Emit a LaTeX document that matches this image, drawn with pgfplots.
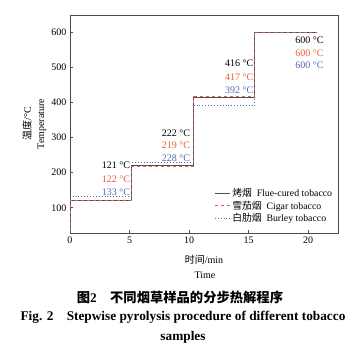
\documentclass[border=0pt]{standalone}
\usepackage{pgfplots}
\pgfplotsset{compat=1.18}
\usepackage{fontspec}
\setmainfont{Liberation Serif}
\newfontfamily\cjk{Noto Sans CJK SC}
\definecolor{cblack}{HTML}{505050}
\definecolor{cred}{HTML}{F05A3C}
\definecolor{cblue}{HTML}{5068B8}
\begin{document}
\begin{tikzpicture}
\useasboundingbox (0pt,0pt) rectangle (359pt,353pt);
\begin{axis}[
  at={(70pt,120pt)}, anchor=south west,
  scale only axis, width=268pt, height=218pt,
  xmin=0, xmax=22.5, ymin=28, ymax=650,
  xtick={0,5,10,15,20}, ytick={100,200,300,400,500,600},
  axis line style={draw=black!70, line width=0.9pt},
  tick style={draw=black!70, line width=0.6pt},
  tick align=inside, major tick length=3pt,
  xtick pos=bottom, ytick pos=left,
  tick label style={font=\fontsize{10}{11}\selectfont},
  /pgf/number format/assume math mode=true,
  legend style={draw=none, fill=none, at={(0.99,0.03)}, anchor=south east,
    font=\fontsize{9.8}{10.5}\selectfont, row sep=-1.2pt, inner sep=1pt},
  legend cell align=left,
  legend image code/.code={\draw[#1] (0pt,0pt) -- (15pt,0pt);},
]
\addplot[cblack, line width=0.9pt] coordinates {(0,0) (0,121) (5.2,121) (5.2,222) (10.4,222) (10.4,416) (15.5,416) (15.5,600) (20.7,600)};
\addlegendentry{{\cjk 烤烟}\ \ Flue-cured tobacco}
\addplot[cred, dashed, line width=0.9pt] coordinates {(0,0) (0,122) (5.2,122) (5.2,219) (10.4,219) (10.4,417) (15.5,417) (15.5,600) (20.7,600)};
\addlegendentry{{\cjk 雪茄烟}\ \ Cigar tobacco}
\addplot[cblue, dotted, line width=0.9pt] coordinates {(0,0) (0,133) (5.2,133) (5.2,228) (10.4,228) (10.4,392) (15.5,392) (15.5,600) (20.7,600)};
\addlegendentry{{\cjk 白肋烟}\ \ Burley tobacco}
\begin{scope}[every node/.style={anchor=east, font=\fontsize{10}{11}\selectfont, inner sep=0pt}]
\node[text=black] at (axis cs:5.05,221) {121 °C};
\node[text=cred] at (axis cs:5.05,181) {122 °C};
\node[text=cblue] at (axis cs:5.05,144) {133 °C};
\node[text=black] at (axis cs:10.1,313) {222 °C};
\node[text=cred] at (axis cs:10.1,279) {219 °C};
\node[text=cblue] at (axis cs:10.1,242) {228 °C};
\node[text=black] at (axis cs:15.4,513) {416 °C};
\node[text=cred] at (axis cs:15.4,473) {417 °C};
\node[text=cblue] at (axis cs:15.4,436) {392 °C};
\node[text=black] at (axis cs:21.3,579) {600 °C};
\node[text=cred] at (axis cs:21.3,542) {600 °C};
\node[text=cblue] at (axis cs:21.3,508) {600 °C};
\end{scope}
\end{axis}
\node[rotate=90, font=\fontsize{10}{11}\selectfont] at (27pt,229pt) {{\cjk 温度}/°C};
\node[rotate=90, font=\fontsize{10}{11}\selectfont] at (42pt,229pt) {Temperature};
\node[font=\fontsize{10}{11}\selectfont] at (204pt,93pt) {{\cjk 时间}/min};
\node[font=\fontsize{10}{11}\selectfont] at (205pt,78pt) {Time};
\node[font=\fontsize{13.3}{15}\selectfont\bfseries] at (180pt,56pt) {{\cjk\bfseries 图}2\quad{\cjk\bfseries 不同烟草样品的分步热解程序}};
\node[font=\fontsize{13.3}{15}\selectfont\bfseries] at (183pt,36pt) {Fig. 2\quad Stepwise pyrolysis procedure of different tobacco};
\node[font=\fontsize{13.3}{15}\selectfont\bfseries] at (183pt,16pt) {samples};
\end{tikzpicture}
\end{document}
